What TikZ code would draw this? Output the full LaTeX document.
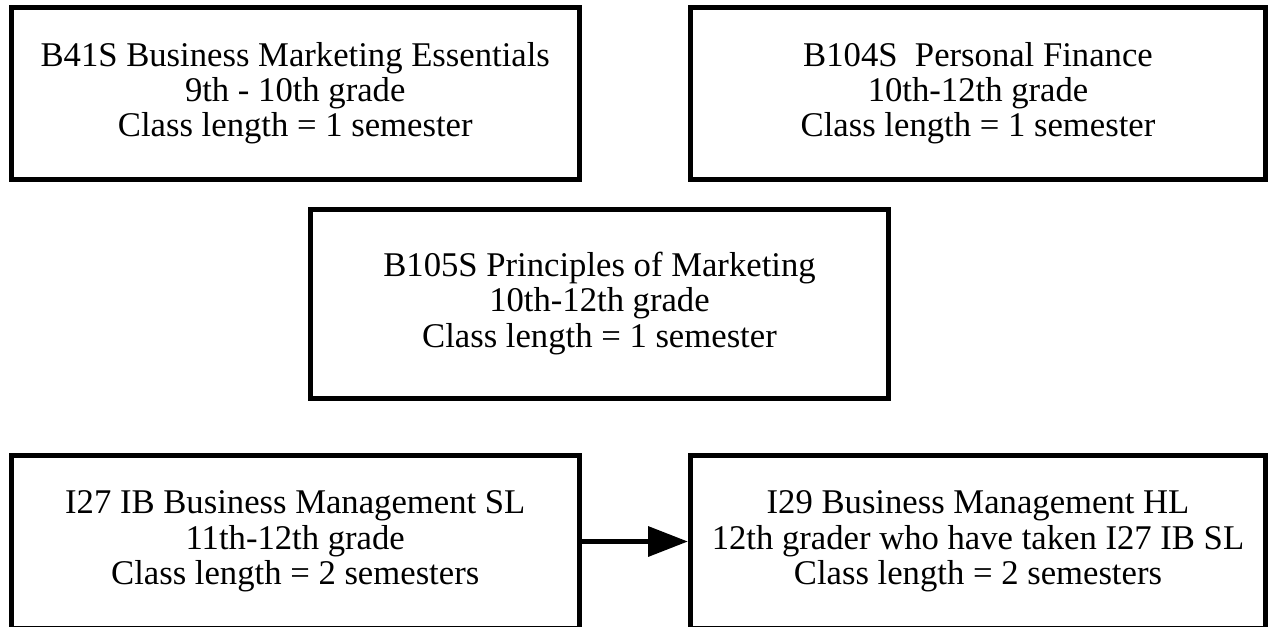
\documentclass[tikz,border=0pt]{standalone}
\usepackage{fontspec}
\setmainfont{Liberation Serif}
\usetikzlibrary{arrows.meta}
\begin{document}
\begin{tikzpicture}[x=0.75pt,y=-0.75pt,
  course/.style={draw=black,line width=3.75pt,align=center,inner sep=0pt,
    font=\fontsize{26}{26.5}\selectfont},
  link/.style={line width=4.2pt,-{Triangle[length=30pt,width=22pt]}}]
\useasboundingbox (0,0) rectangle (1270,626);
\node[course,minimum width=568.5*0.75pt,minimum height=172.5*0.75pt] (b41) at (295.25,93.25)
  {B41S Business Marketing Essentials\\9th - 10th grade\\Class length = 1 semester};
\node[course,minimum width=575*0.75pt,minimum height=172.5*0.75pt] (b104) at (978,93.25)
  {B104S\ \ Personal Finance\\10th-12th grade\\Class length = 1 semester};
\node[course,minimum width=578*0.75pt,minimum height=189*0.75pt] (b105) at (599.5,303.5)
  {B105S Principles of Marketing\\10th-12th grade\\Class length = 1 semester};
\node[course,minimum width=568.5*0.75pt,minimum height=173*0.75pt] (i27) at (295.25,541.5)
  {I27 IB Business Management SL\\11th-12th grade\\Class length = 2 semesters};
\node[course,minimum width=575*0.75pt,minimum height=173*0.75pt] (i29) at (978,541.5)
  {I29 Business Management HL\\12th grader who have taken I27 IB SL\\Class length = 2 semesters};
\draw[link] (i27.east) -- (i29.west);
\end{tikzpicture}
\end{document}
